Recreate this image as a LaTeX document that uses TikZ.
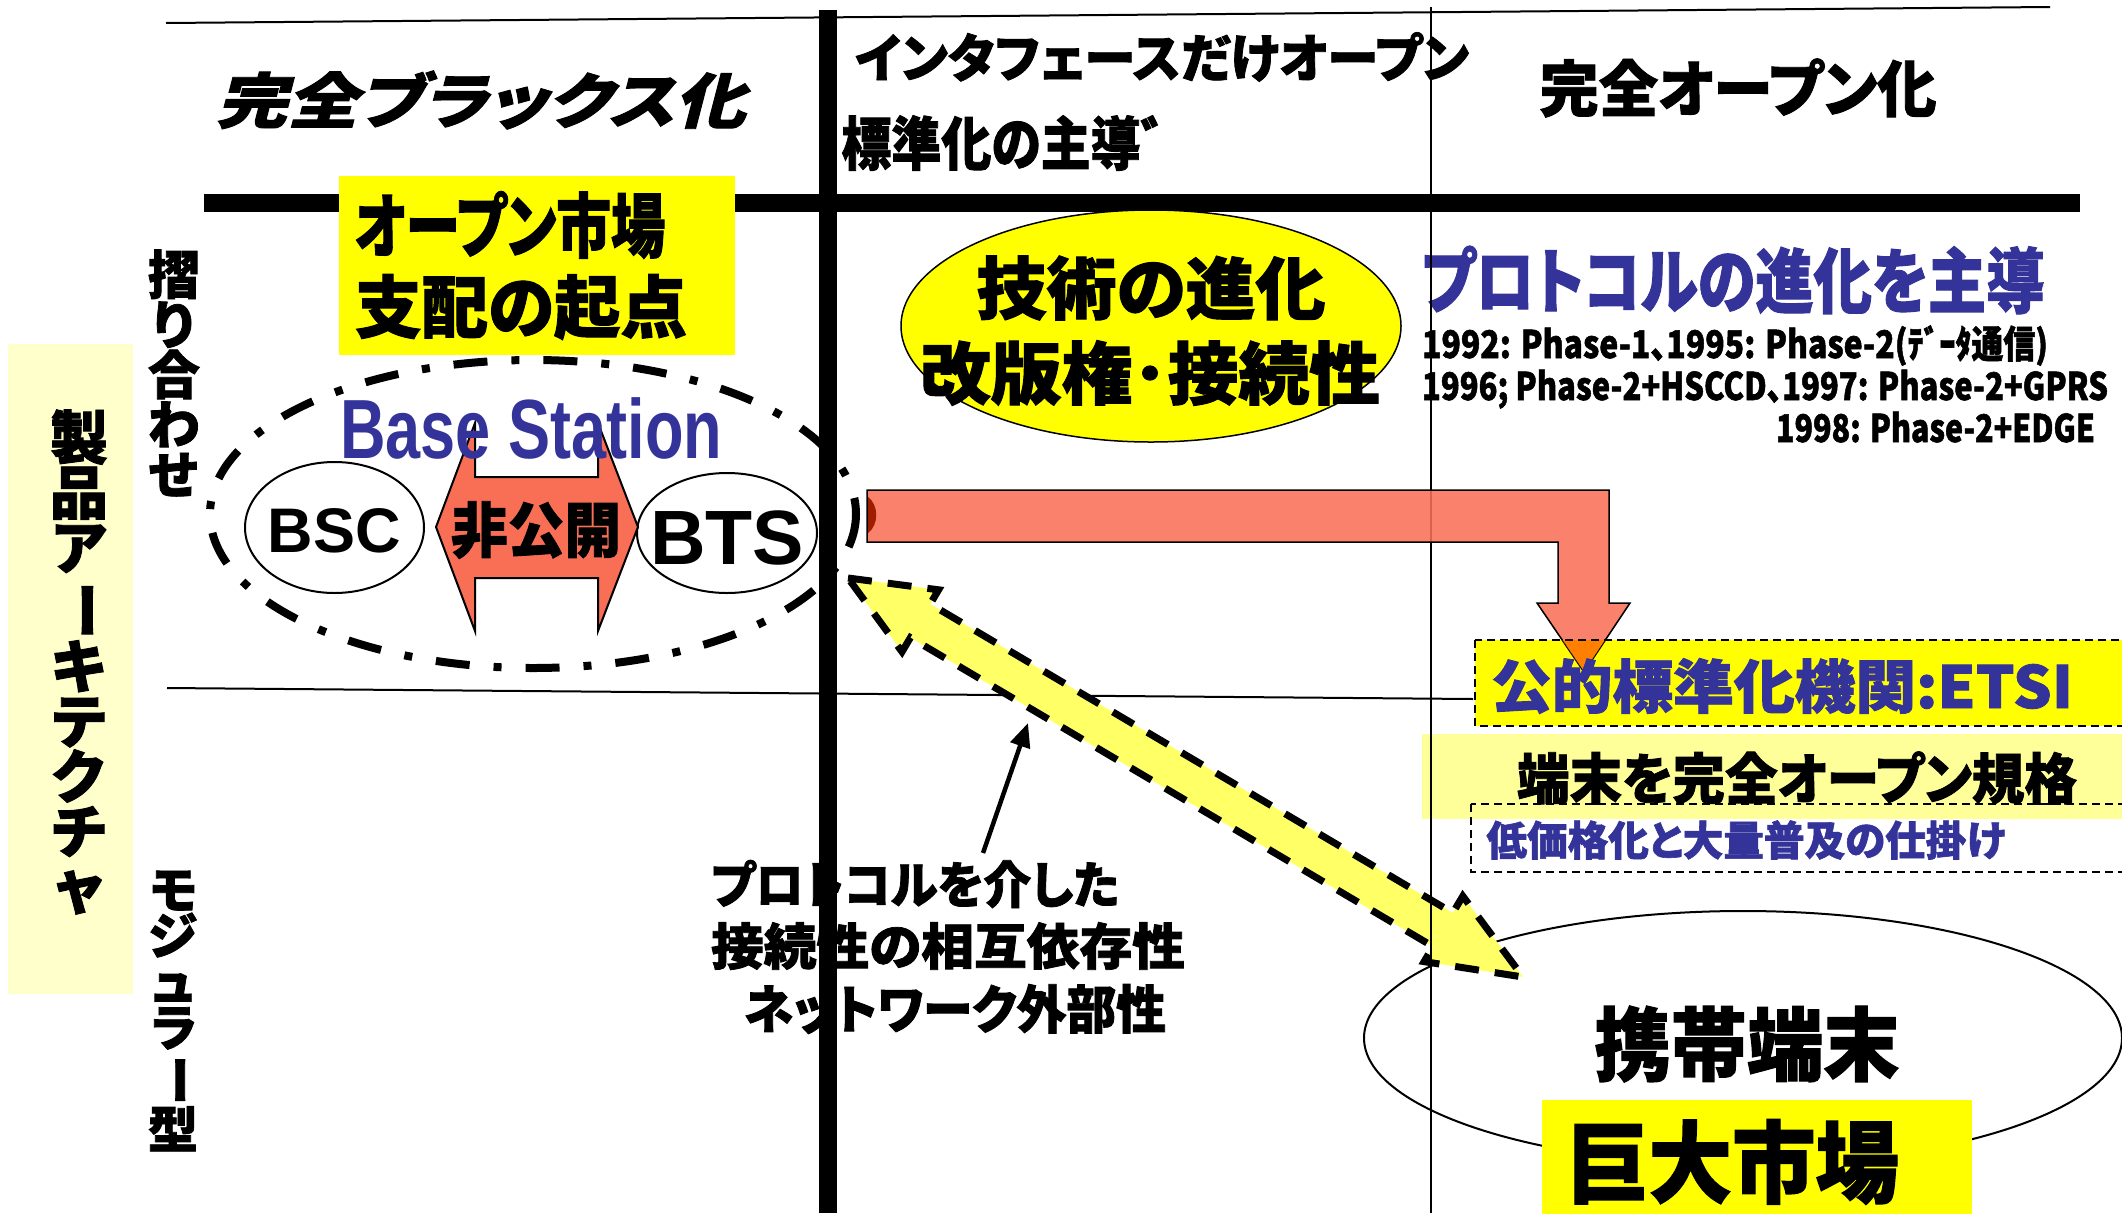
\documentclass[tikz,border=0pt]{standalone}
\usepackage{fontspec}
\usepackage{graphicx}
\usetikzlibrary{arrows.meta}
\newfontfamily\jp{Noto Sans CJK JP}[RawFeature=+palt,BoldFeatures={FakeBold=1.5}]
\newfontfamily\jpv{Noto Sans CJK JP}[BoldFeatures={FakeBold=1.5}]
\newfontfamily\jpit{Noto Sans CJK JP}[RawFeature=+palt,FakeSlant=0.22,BoldFeatures={FakeBold=1.5,FakeSlant=0.22}]
\newfontfamily\ar{Liberation Sans}
\newcommand\tx[3]{\resizebox{#1pt}{\height}{\fontsize{#2pt}{#2pt}\selectfont #3}}
\newcommand\vbar{\rotatebox[origin=c]{-90}{ー}}
\definecolor{jblue}{HTML}{333399}
\definecolor{salm}{HTML}{F96F56}
\definecolor{ylw}{HTML}{FFFF00}
\definecolor{lyl}{HTML}{FFFF99}
\definecolor{pale}{HTML}{FFFFCC}
\definecolor{ya}{HTML}{FFFF66}
\definecolor{dred}{HTML}{A01E00}
\definecolor{orng}{HTML}{FF8000}
\begin{document}
\begin{tikzpicture}[x=1pt,y=-1pt,
  lbl/.style={inner sep=0pt,outer sep=0pt,font=\jp\bfseries},
  thinln/.style={line width=2pt},
  thickln/.style={line width=18pt},
  dotbox/.style={draw,line width=2pt,dash pattern=on 8pt off 5pt},
  dashdot/.style={line width=8pt,dash pattern=on 34pt off 24pt on 8pt off 24pt},
  bigarrow/.style={fill=ya,draw,line width=7pt,dash pattern=on 24pt off 16pt,line join=miter},
]
\useasboundingbox (0,0) rectangle (2122,1213);

% left pale box
\fill[pale] (8,344) rectangle (133,994);
\node[lbl,align=center,font=\jpv\bfseries\fontsize{58pt}{55pt}\selectfont] (seihin) at (79,662)
  {製\\品\\ア\\\vbar\\キ\\テ\\ク\\チ\\ャ};
\node[lbl,align=center,font=\jpv\bfseries\fontsize{52pt}{50pt}\selectfont] (suri) at (174,373)
  {摺\\り\\合\\わ\\せ};
\node[lbl,align=center,font=\jpv\bfseries\fontsize{50pt}{46pt}\selectfont] (modu) at (173,1011)
  {モ\\ジ\\ュ\\ラ\\\vbar\\型};

% lines
\draw[thinln] (166,23) -- (2050,7);
\draw[thickln] (204,203) -- (2080,203);

% top texts
\node[lbl] (kanzen) at (481,100) {\tx{529}{60}{\jpit\bfseries 完全ブラックス化}};
\node[lbl] (ifopen) at (1162,57) {\tx{614}{52}{インタフェースだけオープン}};
\node[lbl] (hyoujun) at (1016,143) {\tx{349}{58}{標準化の主導゛}};
\node[lbl] (fullopen) at (1738,88) {\tx{397}{61}{完全オープン化}};

% open market box
\fill[ylw] (339,176) rectangle (735,355);
\node[lbl] (om1) at (510,225) {\tx{311}{70}{オープン市場}};
\node[lbl] (om2) at (521,307) {\tx{332}{68}{支配の起点}};

% tech evolution ellipse
\draw[fill=ylw,line width=1.5pt] (1151,326) ellipse [x radius=250, y radius=116];
\node[lbl] (gi1) at (1151,288) {\tx{349}{68}{技術の進化}};
\node[lbl] (gi2) at (1150,373) {\tx{460}{68}{改版権･接続性}};

% protocol
\node[lbl,text=jblue] (proto) at (1733,280) {\tx{623}{71}{プロトコルの進化を主導}};
\node[lbl,anchor=base west] (ph1) at (1422,358) {\tx{626}{38}{1992: Phase-1、1995: Phase-2(ﾃﾞｰﾀ通信)}};
\node[lbl,anchor=base west] (ph2) at (1422,400) {\tx{686}{38}{1996; Phase-2+HSCCD、1997: Phase-2+GPRS}};
\node[lbl,anchor=base west] (ph3) at (1776,442) {\tx{319}{38}{1998: Phase-2+EDGE}};

% base station group
\draw[dashdot] (533,514) ellipse [x radius=323, y radius=154];
\draw[line width=2pt] (334.5,527.5) ellipse [x radius=89.5, y radius=65.5];
\draw[line width=2pt] (727,533) ellipse [x radius=90, y radius=60];
\draw[fill=salm,line width=2pt] (436,527) -- (475,423) -- (475,477) -- (598,477) -- (598,423)
  -- (638,527) -- (598,631) -- (598,578) -- (475,578) -- (475,631) -- cycle;
\node[lbl] (hikoukai) at (536,530) {\tx{170}{60}{非公開}};
\node[inner sep=0pt,font=\ar\bfseries] (bsc) at (334.5,531) {\fontsize{63pt}{63pt}\selectfont BSC};
\node[inner sep=0pt,font=\ar\bfseries] (bts) at (727,538) {\fontsize{77pt}{77pt}\selectfont BTS};
\node[inner sep=0pt,font=\ar\bfseries,text=jblue,anchor=base west] (bs) at (340,458)
  {\resizebox{382pt}{\height}{\fontsize{84pt}{84pt}\selectfont Base Station}};

% thin horizontal
\draw[thinln] (167,688) -- (1473,699);

% handset ellipse and market
\draw[line width=2pt] (1743,1038) ellipse [x radius=379, y radius=127];
\fill[ylw] (1542,1100) rectangle (1972,1220);
\node[lbl] (keitai) at (1747,1044) {\tx{305}{80}{携帯端末}};
\node[lbl] (kyodai) at (1732,1162) {\tx{334}{89}{巨大市場}};

% terminal boxes
\fill[lyl] (1422,734) rectangle (2140,819);
\draw[dotbox] (1471,804) rectangle (2140,872);
\node[lbl] (tanmatsu) at (1797,778) {\tx{560}{55}{端末を完全オープン規格}};
\node[lbl,text=jblue] (teikakaku) at (1746,840) {\tx{519}{41}{低価格化と大量普及の仕掛け}};

% ETSI box fill
\fill[ylw] (1475,640) rectangle (2140,726);

% yellow double arrow
\coordinate (ya1) at (848,578);
\coordinate (ya2) at (1523,977);
\draw[bigarrow] (ya1) -- (938.6,589.8) -- (930.2,604.0) -- (1452.8,912.9) -- (1462.8,896.1)
  -- (ya2) -- (1424.1,961.6) -- (1433.0,946.5) -- (910.4,637.6) -- (902.0,651.8) -- cycle;

% thin vertical
\draw[thinln] (1431,7) -- (1431,1213);

% salmon bent arrow
\draw[fill=salm,fill opacity=0.88,line width=1.5pt] (867,490) -- (1609,490) -- (1609,603) -- (1630,603)
  -- (1584,672) -- (1537,603) -- (1558,603) -- (1558,542) -- (867,542) -- cycle;
\fill[dred] (868,497) .. controls (879,505) and (879,525) .. (868,533) -- cycle;
\begin{scope}
\clip (1475,640) rectangle (2140,726);
\fill[orng] (1630,603) -- (1584,672) -- (1537,603) -- cycle;
\end{scope}
\draw (1630,603) -- (1584,672) -- (1537,603);
\draw[dotbox] (1475,640) rectangle (2140,726);
\node[lbl,text=jblue] (etsi) at (1782,686) {\tx{582}{58}{公的標準化機関:ETSI}};

% protocol interdependence text
\node[lbl] (pi1) at (915,884) {\tx{408}{50}{プロトコルを介した}};
\node[lbl] (pi2) at (948,946) {\tx{474}{50}{接続性の相互依存性}};
\node[lbl] (pi3) at (955,1009) {\tx{422}{52}{ネットワーク外部性}};

% thick vertical
\draw[thickln] (828,10) -- (828,1213);

% annotation arrow
\coordinate (pa) at (983,853);
\coordinate (pb) at (1028,723);
\draw[line width=4.5pt,-{Triangle[length=24pt,width=20pt]}] (pa) -- (pb);
\end{tikzpicture}
\end{document}
